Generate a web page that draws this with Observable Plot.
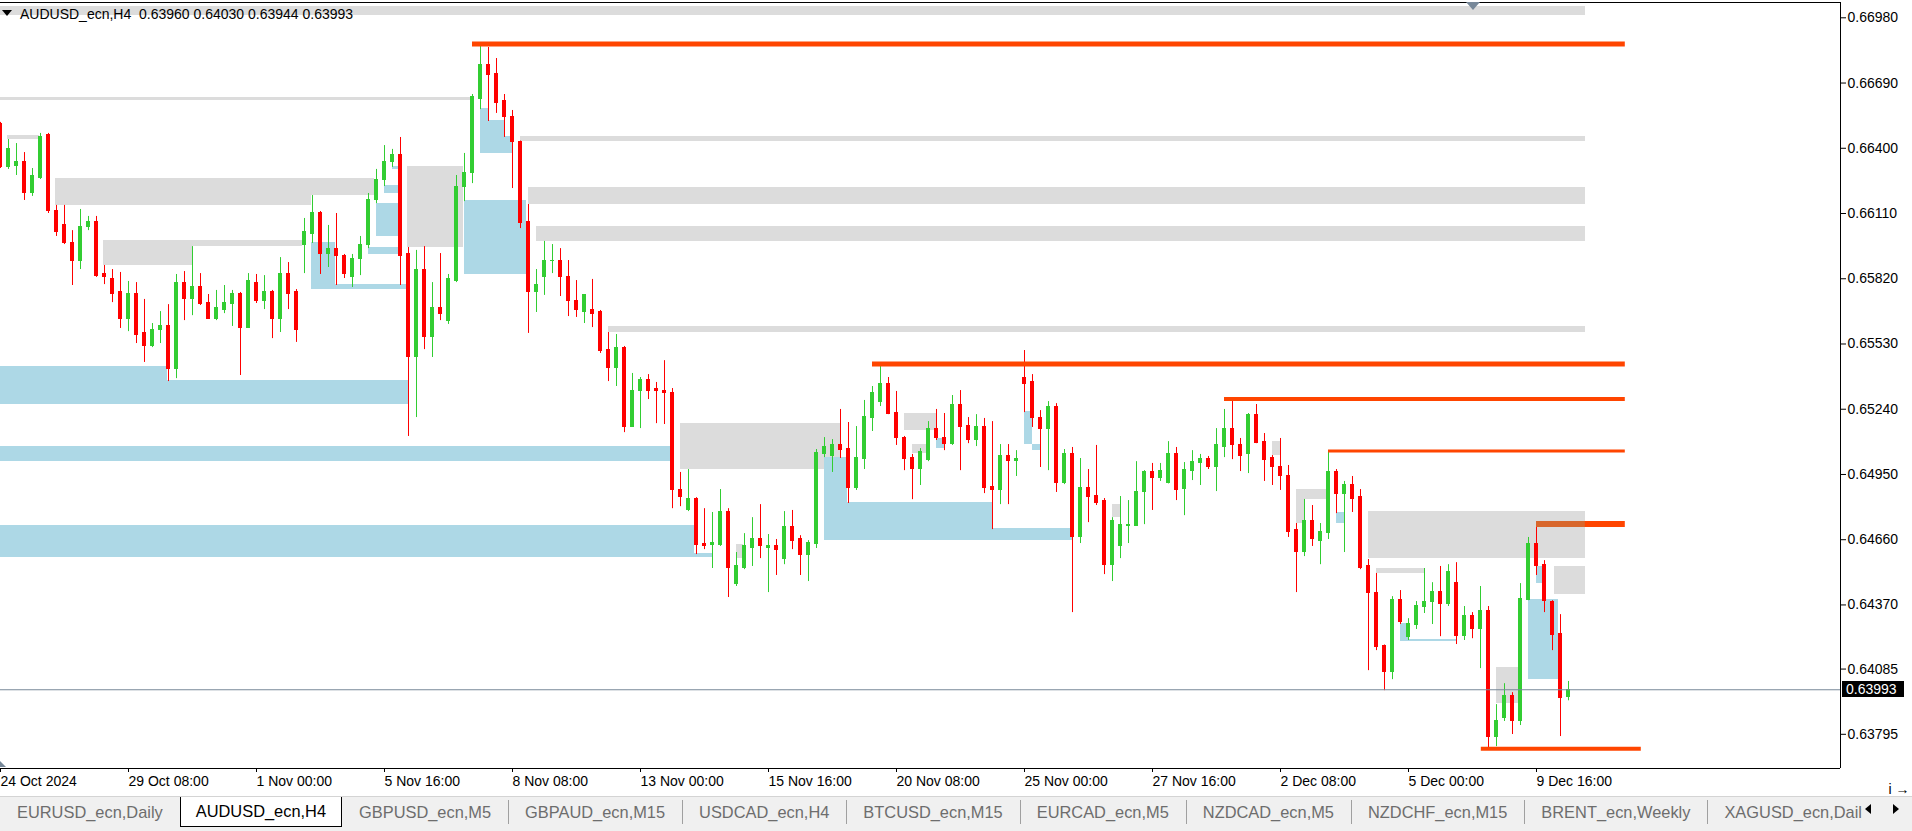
<!DOCTYPE html>
<html><head><meta charset="utf-8">
<script src="https://cdn.jsdelivr.net/npm/d3@7"></script>
<script src="https://cdn.jsdelivr.net/npm/@observablehq/plot@0.6"></script>
<style>
html,body{margin:0;padding:0;background:#fff;overflow:hidden;width:1912px;height:831px;font-family:"Liberation Sans",Arial,sans-serif;}
#wrap{position:absolute;left:0;top:0;width:1912px;height:796px;overflow:hidden;}
#wrap svg{display:block;}
#title{position:absolute;left:20px;top:6px;font-size:14px;line-height:16px;white-space:pre;color:#000;}
#tri{position:absolute;left:2px;top:10px;}
#plabel{position:absolute;left:1842px;width:62px;height:16px;background:#000;color:#fff;font-size:14px;line-height:16px;padding-left:4px;box-sizing:border-box;}
#tabs{position:absolute;left:0;top:796px;width:1912px;height:35px;background:#f0f0f0;border-top:1px solid #d4d4d4;box-sizing:border-box;overflow:hidden;}
#tablist{display:flex;position:absolute;left:0;top:0;height:30px;width:1862px;overflow:hidden;}
.tab{padding:0 17px;line-height:30px;height:30px;font-size:16.4px;color:#6d6d6d;white-space:nowrap;position:relative;box-sizing:border-box;flex:none;}
.tab::before{content:"";position:absolute;left:0;top:3px;bottom:3px;width:1px;background:#a0a0a0;}
.tab:first-child::before,.tab.active::before,.tab.active + .tab::before{display:none;}
.tab.active{background:#fff;color:#000;border:1px solid #000;border-top:none;padding:0 15px;line-height:29px;}
#arrows{position:absolute;left:1862px;top:4px;display:block;}
</style></head><body>
<div id="wrap"></div>
<div id="tabs"><div id="tablist"></div><svg id="arrows" width="50" height="18"><polygon points="9,3 3,8 9,13" fill="#000"/><polygon points="31,3 37,8 31,13" fill="#000"/></svg></div>
<script>
const symbol = "AUDUSD_ecn,H4";
const opens = [0.66506,0.66315,0.66323,0.66341,0.66199,0.66270,0.66457,0.66123,0.66061,0.65981,0.65897,0.66048,0.66074,0.65839,0.65821,0.65759,0.65643,0.65754,0.65577,0.65523,0.65590,0.65612,0.65421,0.65803,0.65728,0.65785,0.65714,0.65643,0.65679,0.65710,0.65754,0.65603,0.65799,0.65719,0.65763,0.65643,0.65843,0.65763,0.65972,0.66021,0.66114,0.65932,0.65954,0.65923,0.65826,0.65906,0.65968,0.66168,0.66257,0.66337,0.66368,0.65928,0.65474,0.65861,0.65563,0.65688,0.65634,0.65812,0.66226,0.66288,0.66621,0.66772,0.66728,0.66608,0.66541,0.66430,0.66074,0.65759,0.65826,0.65897,0.65901,0.65830,0.65723,0.65674,0.65683,0.65670,0.65505,0.65425,0.65510,0.65163,0.65319,0.65372,0.65328,0.65323,0.65314,0.64879,0.64794,0.64843,0.64643,0.64638,0.64638,0.64781,0.64461,0.64536,0.64625,0.64665,0.64625,0.64634,0.64576,0.64718,0.64661,0.64590,0.64643,0.65043,0.65030,0.65083,0.65065,0.64892,0.65021,0.65203,0.65270,0.65354,0.65225,0.65114,0.65025,0.64976,0.65016,0.65150,0.65114,0.65087,0.65261,0.65167,0.65105,0.65159,0.64896,0.64879,0.65034,0.65012,0.65381,0.65359,0.65203,0.65150,0.65252,0.64910,0.65039,0.64674,0.64892,0.64856,0.64834,0.64549,0.64630,0.64723,0.64723,0.64870,0.64963,0.64936,0.64910,0.65043,0.64887,0.64967,0.65003,0.65021,0.64981,0.65070,0.65150,0.65083,0.65039,0.65216,0.65096,0.65025,0.64981,0.64945,0.64701,0.64607,0.64741,0.64656,0.64692,0.64959,0.64865,0.64905,0.64852,0.64541,0.64425,0.64189,0.64074,0.64394,0.64229,0.64283,0.64363,0.64381,0.64429,0.64376,0.64469,0.64234,0.64323,0.64261,0.64345,0.63785,0.63869,0.63967,0.63852,0.64394,0.64643,0.64549,0.64381,0.64243,0.63960];
const highs = [0.66515,0.66439,0.66421,0.66381,0.66310,0.66466,0.66466,0.66146,0.66146,0.66034,0.66128,0.66097,0.66097,0.65879,0.65861,0.65848,0.65808,0.65803,0.65728,0.65621,0.65674,0.65705,0.65839,0.65852,0.65963,0.65843,0.65750,0.65768,0.65790,0.65768,0.65759,0.65843,0.65839,0.65834,0.65768,0.65914,0.65892,0.65772,0.66088,0.66190,0.66119,0.66057,0.66110,0.65928,0.65928,0.66008,0.66199,0.66306,0.66412,0.66395,0.66448,0.65959,0.65946,0.65963,0.65803,0.65932,0.65839,0.66279,0.66377,0.66639,0.66870,0.66848,0.66799,0.66639,0.66568,0.66432,0.66150,0.65861,0.65986,0.65972,0.65954,0.65901,0.65812,0.65750,0.65817,0.65679,0.65581,0.65572,0.65519,0.65399,0.65381,0.65394,0.65359,0.65456,0.65332,0.64959,0.64972,0.64847,0.64798,0.64781,0.64883,0.64798,0.64603,0.64687,0.64758,0.64816,0.64683,0.64661,0.64785,0.64790,0.64678,0.64656,0.65061,0.65114,0.65105,0.65239,0.65181,0.65163,0.65279,0.65341,0.65443,0.65381,0.65319,0.65119,0.65039,0.65065,0.65185,0.65239,0.65221,0.65301,0.65323,0.65203,0.65216,0.65199,0.65185,0.65083,0.65083,0.65056,0.65501,0.65394,0.65234,0.65274,0.65265,0.65061,0.65070,0.65021,0.64972,0.65079,0.64843,0.64758,0.64852,0.64834,0.65007,0.64967,0.64999,0.64999,0.65096,0.65070,0.65003,0.65056,0.65039,0.65030,0.65154,0.65239,0.65288,0.65110,0.65221,0.65261,0.65132,0.65034,0.65110,0.64990,0.64732,0.64839,0.64812,0.64732,0.65056,0.64972,0.64919,0.64941,0.64883,0.64572,0.64510,0.64192,0.64407,0.64434,0.64309,0.64385,0.64532,0.64469,0.64541,0.64549,0.64558,0.64363,0.64336,0.64452,0.64363,0.63927,0.64020,0.63980,0.64465,0.64670,0.64734,0.64567,0.64389,0.64327,0.64030];
const lows = [0.66310,0.66306,0.66279,0.66168,0.66186,0.66261,0.66110,0.66008,0.65972,0.65790,0.65861,0.66034,0.65826,0.65794,0.65714,0.65599,0.65585,0.65532,0.65448,0.65514,0.65532,0.65363,0.65376,0.65634,0.65656,0.65701,0.65639,0.65634,0.65665,0.65608,0.65390,0.65599,0.65710,0.65683,0.65554,0.65581,0.65683,0.65537,0.65843,0.65977,0.65839,0.65870,0.65790,0.65821,0.65781,0.65834,0.65954,0.66154,0.66230,0.66315,0.65790,0.65119,0.65203,0.65505,0.65470,0.65634,0.65617,0.65803,0.66163,0.66243,0.66572,0.66519,0.66555,0.66448,0.66221,0.66043,0.65577,0.65670,0.65746,0.65843,0.65741,0.65652,0.65648,0.65621,0.65603,0.65488,0.65363,0.65341,0.65136,0.65159,0.65154,0.65283,0.65176,0.65172,0.64798,0.64807,0.64785,0.64594,0.64616,0.64532,0.64630,0.64403,0.64452,0.64527,0.64541,0.64576,0.64425,0.64501,0.64549,0.64616,0.64501,0.64474,0.64621,0.65025,0.64959,0.65021,0.64821,0.64879,0.64972,0.65141,0.65252,0.65216,0.65079,0.64967,0.64838,0.64901,0.65007,0.65101,0.65056,0.65079,0.64967,0.65087,0.65074,0.64865,0.64705,0.64816,0.64816,0.64941,0.65225,0.65159,0.64981,0.64967,0.64870,0.64905,0.64336,0.64643,0.64736,0.64812,0.64505,0.64474,0.64576,0.64643,0.64720,0.64727,0.64790,0.64919,0.64908,0.64834,0.64767,0.64923,0.64901,0.64972,0.64874,0.65025,0.65016,0.64963,0.64954,0.65087,0.64919,0.64901,0.64879,0.64670,0.64425,0.64585,0.64630,0.64549,0.64661,0.64776,0.64603,0.64781,0.64527,0.64078,0.64167,0.63989,0.64038,0.64283,0.64212,0.64261,0.64332,0.64283,0.64229,0.64363,0.64194,0.64212,0.64220,0.64087,0.63731,0.63740,0.63852,0.63794,0.63834,0.64389,0.64501,0.64336,0.64167,0.63785,0.63944];
const closes = [0.66315,0.66399,0.66341,0.66199,0.66275,0.66452,0.66123,0.66030,0.65977,0.65897,0.66048,0.66074,0.65834,0.65826,0.65754,0.65639,0.65754,0.65572,0.65523,0.65594,0.65612,0.65421,0.65799,0.65728,0.65785,0.65710,0.65643,0.65688,0.65714,0.65754,0.65603,0.65808,0.65719,0.65759,0.65643,0.65843,0.65754,0.65590,0.66026,0.66114,0.65932,0.65954,0.65919,0.65843,0.65910,0.65972,0.66168,0.66261,0.66337,0.66368,0.65923,0.65474,0.65861,0.65563,0.65692,0.65665,0.65817,0.66230,0.66292,0.66630,0.66772,0.66724,0.66603,0.66537,0.66426,0.66070,0.65759,0.65794,0.65901,0.65901,0.65826,0.65719,0.65679,0.65746,0.65665,0.65501,0.65425,0.65510,0.65163,0.65323,0.65372,0.65323,0.65319,0.65310,0.64879,0.64852,0.64843,0.64638,0.64634,0.64647,0.64781,0.64536,0.64541,0.64630,0.64665,0.64630,0.64630,0.64616,0.64718,0.64656,0.64590,0.64647,0.65047,0.65074,0.65083,0.65061,0.64892,0.65025,0.65207,0.65314,0.65354,0.65221,0.65110,0.65021,0.64976,0.65052,0.65150,0.65110,0.65087,0.65261,0.65163,0.65105,0.65159,0.64892,0.64879,0.65034,0.65012,0.65021,0.65354,0.65199,0.65150,0.65252,0.64910,0.65039,0.64674,0.64892,0.64852,0.64825,0.64549,0.64741,0.64727,0.64727,0.64874,0.64963,0.64936,0.64967,0.65043,0.64883,0.64972,0.65007,0.65021,0.64981,0.65079,0.65150,0.65079,0.65034,0.65216,0.65092,0.65016,0.64981,0.64941,0.64696,0.64607,0.64741,0.64661,0.64696,0.64959,0.64865,0.64905,0.64843,0.64536,0.64421,0.64185,0.64074,0.64394,0.64296,0.64287,0.64367,0.64385,0.64429,0.64376,0.64518,0.64234,0.64323,0.64261,0.64345,0.63785,0.63856,0.63967,0.63852,0.64398,0.64643,0.64545,0.64389,0.64238,0.63958,0.63993];

const timeTickBars = [0,16,32,48,64,80,96,112,128,144,160,176,192];
const timeTickLabels = ["24 Oct 2024","29 Oct 08:00","1 Nov 00:00","5 Nov 16:00","8 Nov 08:00","13 Nov 00:00","15 Nov 16:00","20 Nov 08:00","25 Nov 00:00","27 Nov 16:00","2 Dec 08:00","5 Dec 00:00","9 Dec 16:00"];
const priceTicks = [0.66980,0.66690,0.66400,0.66110,0.65820,0.65530,0.65240,0.64950,0.64660,0.64370,0.64085,0.63795];

// zones: [fromBar, toBar, topPrice, bottomPrice]
const grayZones = [
  [-2,198.1,0.67030,0.66990],[-2,58.7,0.66626,0.66612],[0.9,4.9,0.66457,0.66439],
  [6.9,46.7,0.66266,0.66190],[6.9,38.9,0.66190,0.66146],[12.9,37.8,0.65990,0.65963],[12.9,24,0.65963,0.65879],
  [50.9,57.9,0.66319,0.65959],[65,198.1,0.66452,0.66430],[66,198.1,0.66226,0.66150],[67,198.1,0.66052,0.65986],
  [76,198.1,0.65608,0.65581],[85,105,0.65176,0.64972],[113,117,0.65221,0.65145],[114,115.9,0.65083,0.65043],
  [92,92.9,0.64638,0.64576],[139,140,0.64816,0.64758],[159,160,0.65096,0.65034],[162,166,0.64883,0.64839],
  [162,163,0.64839,0.64732],[171,198.1,0.64785,0.64576],[172,178,0.64532,0.64510],[194.2,198.1,0.64541,0.64416],
  [187,190,0.64092,0.63932]
];
const blueZones = [
  [-2,20.9,0.65430,0.65261],[20.9,51,0.65368,0.65261],[-2,83.7,0.65074,0.65007],[-2,86.7,0.64723,0.64581],
  [86.7,89,0.64599,0.64581],[38.9,41.9,0.65981,0.65772],[41.9,50.7,0.65794,0.65772],[46,49.7,0.65959,0.65928],
  [47,49.7,0.66154,0.66008],[48,49.7,0.66235,0.66199],[49,49.7,0.66319,0.66306],[58,65.7,0.66168,0.65839],
  [60,61,0.66577,0.66377],[61,63,0.66523,0.66377],[63,64,0.66452,0.66377],[103,105.9,0.65025,0.64656],
  [105.9,124,0.64825,0.64656],[124,134,0.64710,0.64656],[117,118,0.65110,0.65065],[128,129,0.65230,0.65083],
  [129,130,0.65083,0.65056],[167,168,0.64781,0.64732],[175,176,0.64287,0.64212],[175,182,0.64216,0.64208],
  [191,194.7,0.64394,0.64038],[192,193,0.64541,0.64465]
];
// horizontal levels: [fromBar, toBar, price]
const orangeLevels = [[59,203.1,0.66864],[109,203.1,0.65441],[153,203.1,0.65285],[166,203.1,0.65054],[192,203.1,0.64730],[185.1,205.1,0.63731]];
const orangeWidths = [5,5,4,3,6,4];
const shiftBar = 184.1;
const tabNames = ["EURUSD_ecn,Daily","AUDUSD_ecn,H4","GBPUSD_ecn,M5","GBPAUD_ecn,M15","USDCAD_ecn,H4","BTCUSD_ecn,M15","EURCAD_ecn,M5","NZDCAD_ecn,M5","NZDCHF_ecn,M15","BRENT_ecn,Weekly","XAGUSD_ecn,Daily"];
const activeTab = 1;

const UP = "#32cd32", DOWN = "#ff0000", GRAY = "#dcdcdc", BLUE = "#add8e6", ORANGE = "#ff4500", OVER = "#d8672c";
const bars = opens.map((o, i) => ({i, o, h: highs[i], l: lows[i], c: closes[i]}));
const up = bars.filter(d => d.c >= d.o), down = bars.filter(d => d.c < d.o);
const half = 0.31;
const yDomain = [0.63643, 0.67048];
const lastBar = bars[bars.length - 1];

const overlaps = [];
orangeLevels.forEach(([a, b, p], k) => grayZones.forEach(([x1, x2, t, bt]) => {
  if (p <= t && p >= bt && Math.min(b, x2) > Math.max(a, x1)) overlaps.push({seg: [Math.max(a, x1), Math.min(b, x2), p], w: orangeWidths[k]});
}));

const zone = (data, fill) => Plot.rect(data, {x1: d => d[0], x2: d => d[1], y1: d => d[2], y2: d => d[3], fill, clip: true, shapeRendering: "crispEdges"});

const chart = Plot.plot({
  width: 1912, height: 796,
  marginLeft: 0, marginRight: 72, marginTop: 2, marginBottom: 28,
  style: {fontFamily: '"Liberation Sans", Arial, sans-serif', fontSize: "14px", background: "transparent", color: "#000", overflow: "visible"},
  x: {domain: [0, 230], axis: null},
  y: {domain: yDomain, axis: null},
  marks: [
    zone(grayZones, GRAY),
    zone(blueZones, BLUE),
    Plot.ruleX(up, {x: "i", y1: "l", y2: "h", stroke: UP, clip: true}),
    Plot.ruleX(down, {x: "i", y1: "l", y2: "h", stroke: DOWN, clip: true}),
    Plot.rect(up, {x1: d => d.i - half, x2: d => d.i + half, y1: "o", y2: "c", fill: UP, insetTop: -0.5, insetBottom: -0.5, clip: true, shapeRendering: "crispEdges"}),
    Plot.rect(down, {x1: d => d.i - half, x2: d => d.i + half, y1: "o", y2: "c", fill: DOWN, insetTop: -0.5, insetBottom: -0.5, clip: true, shapeRendering: "crispEdges"}),
    ...orangeLevels.map((lv, k) => Plot.ruleY([lv], {x1: d => d[0], x2: d => d[1], y: d => d[2], stroke: ORANGE, strokeWidth: orangeWidths[k], clip: true})),
    ...overlaps.map(o => Plot.ruleY([o.seg], {x1: d => d[0], x2: d => d[1], y: d => d[2], stroke: OVER, strokeWidth: o.w, clip: true})),
    Plot.ruleY([lastBar.c], {stroke: "#778899", clip: true}),
    Plot.ruleY([yDomain[1]], {stroke: "#000"}),
    Plot.ruleY([yDomain[0]], {stroke: "#000"}),
    Plot.ruleX([230], {stroke: "#000"}),
    Plot.axisX({anchor: "bottom", ticks: timeTickBars, tickFormat: v => timeTickLabels[timeTickBars.indexOf(v)], tickSize: 4, tickPadding: 4, textAnchor: "start", fontSize: 14, stroke: "#000"}),
    Plot.axisY({anchor: "right", ticks: priceTicks, tickFormat: d3.format(".5f"), tickSize: 5, tickPadding: 2, fontSize: 14})
  ]
});
const wrap = document.getElementById("wrap");
wrap.appendChild(chart);

const f5 = d3.format(".5f");
const title = document.createElement("div");
title.id = "title";
title.textContent = `${symbol}  ${f5(lastBar.o)} ${f5(lastBar.h)} ${f5(lastBar.l)} ${f5(lastBar.c)}`;
wrap.appendChild(title);
wrap.insertAdjacentHTML("beforeend", '<svg id="tri" width="11" height="7"><polygon points="0,0 10,0 5,6" fill="#000"/></svg>');

const ys = chart.scale("y"), xs = chart.scale("x");
const pl = document.createElement("div");
pl.id = "plabel";
pl.textContent = f5(lastBar.c);
pl.style.top = (ys.apply(lastBar.c) - 8) + "px";
wrap.appendChild(pl);

const sx = xs.apply(shiftBar);
wrap.insertAdjacentHTML("beforeend", `<svg style="position:absolute;left:${sx - 7}px;top:2px" width="14" height="9"><polygon points="0,0 14,0 7,8" fill="#778899"/></svg>`);
wrap.insertAdjacentHTML("beforeend", `<svg style="position:absolute;left:0;top:761px" width="7" height="7"><polygon points="0,0 6,6 0,6" fill="#778899"/></svg>`);

const tl = document.getElementById("tablist");
tabNames.forEach((n, k) => {
  const t = document.createElement("div");
  t.className = "tab" + (k === activeTab ? " active" : "");
  t.textContent = n;
  tl.appendChild(t);
});
</script>
</body></html>
